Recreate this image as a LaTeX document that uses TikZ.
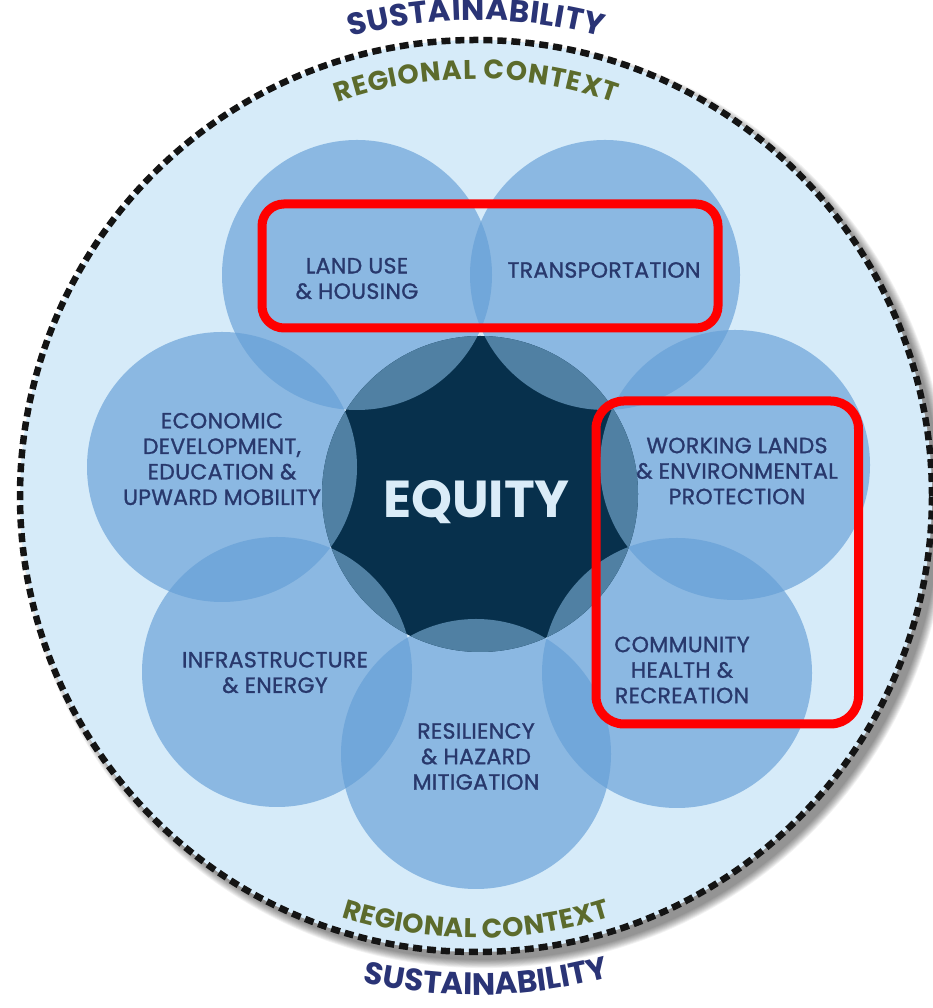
\documentclass[tikz,border=0pt]{standalone}
\usepackage{fontspec}
\setmainfont{Poppins}
\newfontfamily\LabFnt{Poppins}[FakeBold=1.2, LetterSpace=1.5]
\usetikzlibrary{decorations.text,calc}
\definecolor{bgdisk}{RGB}{214,235,249}
\definecolor{petalc}{RGB}{100,158,214}
\definecolor{navyc}{RGB}{7,48,76}
\definecolor{midc}{RGB}{80,128,163}
\definecolor{labtxt}{RGB}{40,56,108}
\definecolor{sustc}{RGB}{42,52,118}
\definecolor{olivec}{RGB}{92,107,44}
\definecolor{equitytxt}{RGB}{218,236,248}
\definecolor{redbox}{RGB}{255,0,0}
\newcommand\SustFnt{\bfseries\fontsize{31}{31}\selectfont}
\newcommand\RegFnt{\bfseries\fontsize{27}{27}\selectfont}
\begin{document}
\begin{tikzpicture}[x=1pt,y=1pt,
  lab/.style={font=\LabFnt\fontsize{22}{25.5}\selectfont, text=labtxt, align=center, inner sep=0pt},
  petal/.style={fill=petalc, fill opacity=0.65},
  redframe/.style={draw=redbox, line width=9pt}]
\useasboundingbox (0,0) rectangle (933,1008);
\fill[white] (0,0) rectangle (933,1008);
% centres
\coordinate (O) at (476,512);
\coordinate (E) at (480,514);
\coordinate (land) at (357,733);
\coordinate (trans) at (605,733);
\coordinate (econ) at (222,541);
\coordinate (work) at (735,543);
\coordinate (infra) at (277,336);
\coordinate (comm) at (677,335);
\coordinate (resil) at (476,254);
% soft shadow
\foreach \k in {0,...,9}
  \fill[black, opacity=0.05] (484,504) circle ({456+0.9*\k});
% outer disk
\fill[bgdisk] (O) circle (456);
% petals
\foreach \c in {land,trans,econ,work,infra,comm,resil}
  \fill[petal] (\c) circle (135);
% equity
\fill[navyc] (E) circle (158);
\begin{scope}
  \clip (E) circle (158);
  \foreach \c in {land,trans,econ,work,infra,comm,resil}
    \fill[midc] (\c) circle (135);
\end{scope}
% dashed boundary
\draw[black!92, line width=6.5pt, dash pattern=on 9pt off 5pt] (O) circle (456);
% labels
\node[lab] (landlbl) at (357,729.5) {LAND USE\\\& HOUSING};
\node[lab] (translbl) at (604,738) {TRANSPORTATION};
\node[lab] (econlbl) at (222,549) {ECONOMIC\\DEVELOPMENT,\\EDUCATION \&\\UPWARD MOBILITY};
\node[lab] (worklbl) at (737,537) {WORKING LANDS\\\& ENVIRONMENTAL\\PROTECTION};
\node[lab] (infralbl) at (275,335.5) {INFRASTRUCTURE\\\& ENERGY};
\node[lab] (resillbl) at (476,251.5) {RESILIENCY\\\& HAZARD\\MITIGATION};
\node[lab] (commlbl) at (682,338) {COMMUNITY\\HEALTH \&\\RECREATION};
\node[font=\bfseries\fontsize{52}{52}\selectfont, text=equitytxt, inner sep=0pt] (equity) at (476.5,506) {EQUITY};
% red frames
\draw[redframe, rounded corners=22pt] (262,804) rectangle (718,680);
\draw[redframe, rounded corners=28pt] (596,607) rectangle (858.5,284);
% curved texts
\path[decorate, decoration={text along path, text={|\SustFnt|SUSTAINABILITY}, text align={fit to path}, text color=sustc}]
  ($(O)+(105.3:476)$) arc[start angle=105.3, end angle=74.7, radius=476];
\path[decorate, decoration={text along path, text={|\RegFnt|REGIONAL CONTEXT}, text align={fit to path}, text color=olivec}]
  ($(O)+(109.4:417)$) arc[start angle=109.4, end angle=70.6, radius=417];
\path[decorate, decoration={text along path, text={|\RegFnt|REGIONAL CONTEXT}, text align={fit to path}, text color=olivec}]
  ($(O)+(252.3:442)$) arc[start angle=252.3, end angle=287.7, radius=442];
\path[decorate, decoration={text along path, text={|\SustFnt|SUSTAINABILITY}, text align={fit to path}, text color=sustc}]
  ($(O)+(256.9:499)$) arc[start angle=256.9, end angle=284.7, radius=499];
\end{tikzpicture}
\end{document}
